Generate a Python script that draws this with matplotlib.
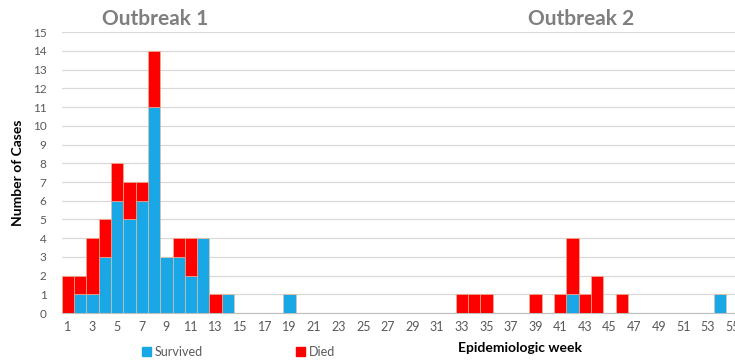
import matplotlib.pyplot as plt
from matplotlib.patches import Patch
import numpy as np

# epidemiologic weeks 1..55
weeks = np.arange(1, 56)

# survived / died cases per week (weeks not listed are zero)
survived_wk = {2: 1, 3: 1, 4: 3, 5: 6, 6: 5, 7: 6, 8: 11, 9: 3, 10: 3, 11: 2, 12: 4,
               14: 1, 19: 1, 42: 1, 54: 1}
died_wk = {1: 2, 2: 1, 3: 3, 4: 2, 5: 2, 6: 2, 7: 1, 8: 3, 10: 1, 11: 2, 13: 1,
           33: 1, 34: 1, 35: 1, 39: 1, 41: 1, 42: 3, 43: 1, 44: 2, 46: 1}

survived = np.array([survived_wk.get(w, 0) for w in weeks])
died = np.array([died_wk.get(w, 0) for w in weeks])

plt.rcParams['font.family'] = ['Lato', 'DejaVu Sans']

blue = '#19A7E6'
red = '#FF0000'

fig = plt.figure(figsize=(7.35, 3.62), dpi=100)
ax = fig.add_axes([0.084, 0.135, 0.921, 0.776])

ax.bar(weeks, survived, width=1.0, color=blue, edgecolor='#f0c0a0', linewidth=0.4, zorder=3)
ax.bar(weeks, died, width=1.0, bottom=survived, color=red, edgecolor='#f0c0a0', linewidth=0.4, zorder=3)

ax.set_xlim(0.5, 55.5)
ax.set_ylim(0, 15)
ax.set_yticks(range(0, 16))
ax.set_xticks(range(1, 56, 2))
ax.tick_params(axis='both', length=0, labelsize=8.5, colors='#595959')
ax.tick_params(axis='y', pad=11)
ax.tick_params(axis='x', pad=6, labelsize=9)
ax.grid(axis='y', color='#d9d9d9', linewidth=0.9, zorder=0)
for s in ['top', 'right', 'left']:
    ax.spines[s].set_visible(False)
ax.spines['bottom'].set_color('#bfbfbf')

ax.set_ylabel('Number of Cases', fontsize=10, fontweight='bold', labelpad=6)
fig.text(0.708, 0.027, 'Epidemiologic week', fontsize=10, fontweight='bold', ha='center')

fig.text(0.211, 0.93, 'Outbreak 1', fontsize=15, fontweight='bold', color='#7f7f7f', ha='center')
fig.text(0.790, 0.93, 'Outbreak 2', fontsize=15, fontweight='bold', color='#7f7f7f', ha='center')

handles = [Patch(color=blue, label='Survived'), Patch(color=red, label='Died')]
fig.legend(handles=handles, loc='lower left', bbox_to_anchor=(0.178, -0.02), ncol=2,
           frameon=False, fontsize=9, handlelength=0.7, handleheight=0.7,
           handletextpad=0.3, columnspacing=7.5, labelcolor='#595959')

fig.savefig('out.png', dpi=100)
